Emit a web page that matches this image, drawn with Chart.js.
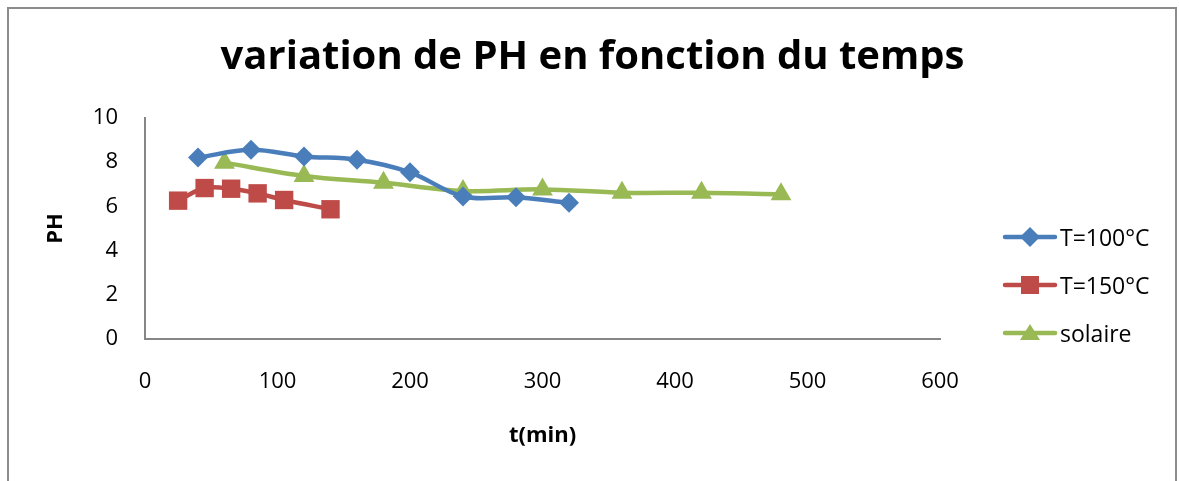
<!DOCTYPE html>
<html><head><meta charset="utf-8">
<script src="https://cdn.jsdelivr.net/npm/chart.js@4.4.1/dist/chart.umd.min.js"></script>
<style>
html,body{margin:0;padding:0;background:#fff;}
#wrap{position:relative;width:1179px;height:481px;overflow:hidden;background:#fff;}
#frame{position:absolute;left:7px;top:7px;width:1170px;height:520px;border:2px solid #8c8c8c;box-sizing:border-box;}
#c{position:absolute;left:0;top:0;}
#legend{position:absolute;left:1002px;top:213px;font-family:'Open Sans',sans-serif;font-size:23px;color:#000;}
.item{height:48px;display:flex;align-items:center;}
.item canvas{margin-right:2px;}
</style>
</head><body>
<div id="wrap"><div id="frame"></div><canvas id="c" width="1179" height="481"></canvas><div id="legend"></div></div>
<script>
const chartTitle = 'variation de PH en fonction du temps';
const xTitle = 't(min)';
const yTitle = 'PH';
const seriesNames = ['T=100°C', 'T=150°C', 'solaire'];
const times100 = [40, 80, 120, 160, 200, 240, 280, 320];
const ph100 = [8.21, 8.56, 8.26, 8.11, 7.54, 6.45, 6.41, 6.16];
const times150 = [25, 45, 65, 85, 105, 140];
const ph150 = [6.26, 6.83, 6.80, 6.59, 6.29, 5.87];
const timesSol = [60, 120, 180, 240, 300, 360, 420, 480];
const phSol = [7.98, 7.38, 7.07, 6.70, 6.77, 6.62, 6.62, 6.55];
const xTicks = [0, 100, 200, 300, 400, 500, 600];
const yTicks = [0, 2, 4, 6, 8, 10];

const colors = ['#4A7EBB', '#BE4B48', '#98B954'];
const styles = ['rectRot', 'rect', 'triangle'];
const radii = [10, 13, 12];
const FONT = "'Open Sans', sans-serif";

function pts(xs, ys){ return xs.map((x,i)=>({x:x, y:ys[i]})); }
const seriesData = [pts(times100, ph100), pts(times150, ph150), pts(timesSol, phSol)];

const datasets = seriesData.map((d,i)=>({
  label: seriesNames[i],
  data: d,
  showLine: true,
  borderColor: colors[i],
  backgroundColor: colors[i],
  borderWidth: 4.5,
  tension: 0.35,
  pointStyle: styles[i],
  pointRadius: radii[i],
  pointHoverRadius: radii[i],
  pointBorderWidth: 0,
  pointBackgroundColor: colors[i]
}));

new Chart(document.getElementById('c'), {
  type: 'scatter',
  data: { datasets: datasets },
  options: {
    responsive: false,
    animation: false,
    events: [],
    layout: { padding: { left: 6, right: 0, top: 0, bottom: 30 } },
    plugins: {
      legend: { display: false },
      tooltip: { enabled: false },
      title: {
        display: true, text: chartTitle, color: '#000',
        font: { family: FONT, size: 40, weight: 'bold', lineHeight: 1.2 },
        padding: { top: 34, bottom: 36 }
      }
    },
    scales: {
      x: {
        type: 'linear', min: 0, max: 600,
        afterBuildTicks: s => { s.ticks = xTicks.map(v=>({value:v})); },
        afterFit: s => { s.height = 112; },
        grid: { display: false, drawTicks: false },
        border: { display: true, color: '#868686', width: 2 },
        ticks: { color: '#000', padding: 30, font: { family: FONT, size: 22 } },
        title: { display: true, text: xTitle, color: '#000', padding: { top: 0, bottom: 2 },
                 font: { family: FONT, size: 22, weight: 'bold', lineHeight: 1.2 } }
      },
      y: {
        type: 'linear', min: 0, max: 10,
        afterBuildTicks: s => { s.ticks = yTicks.map(v=>({value:v})); },
        afterFit: s => { s.width = 139; },
        grid: { display: false, drawTicks: false },
        border: { display: true, color: '#868686', width: 2 },
        ticks: { color: '#000', padding: 27, font: { family: FONT, size: 22 } },
        title: { display: true, text: yTitle, color: '#000', padding: { top: 37, bottom: 0 },
                 font: { family: FONT, size: 22, weight: 'bold', lineHeight: 1.2 } }
      },
      yRightSpace: {
        type: 'linear', position: 'right', display: true,
        afterFit: s => { s.width = 239; },
        grid: { display: false, drawTicks: false },
        border: { display: false },
        ticks: { display: false }
      }
    }
  }
});

// HTML legend
const leg = document.getElementById('legend');
seriesNames.forEach((name, i) => {
  const row = document.createElement('div'); row.className = 'item';
  const cv = document.createElement('canvas'); cv.width = 56; cv.height = 26;
  const g = cv.getContext('2d');
  g.strokeStyle = colors[i]; g.lineWidth = 4.5; g.lineCap = 'round';
  g.beginPath(); g.moveTo(3, 13); g.lineTo(53, 13); g.stroke();
  g.fillStyle = colors[i]; g.beginPath();
  if (styles[i] === 'rectRot') { g.moveTo(28, 3); g.lineTo(38, 13); g.lineTo(28, 23); g.lineTo(18, 13); }
  else if (styles[i] === 'rect') { g.rect(19, 4, 18, 18); }
  else { g.moveTo(28, 4); g.lineTo(38, 20); g.lineTo(18, 20); }
  g.closePath(); g.fill();
  const sp = document.createElement('span'); sp.textContent = name;
  row.appendChild(cv); row.appendChild(sp); leg.appendChild(row);
});
</script>
</body></html>
